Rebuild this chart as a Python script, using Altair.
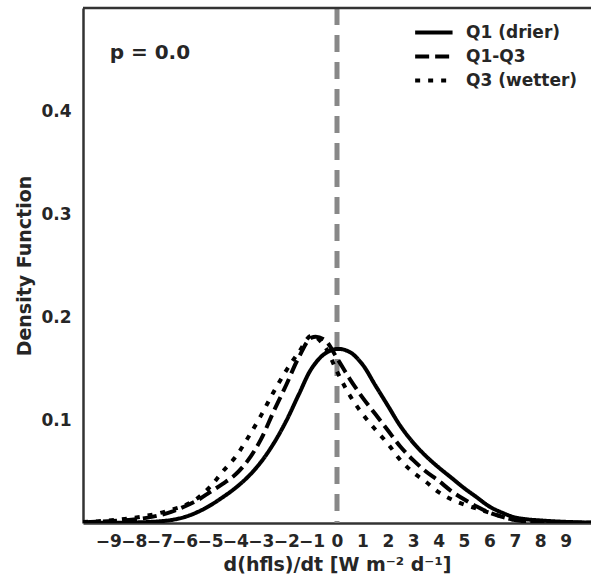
import altair as alt
import pandas as pd

# Kernel density estimates of d(hfls)/dt for three soil-moisture groups
x_grid = [-10.0, -9.5, -9.0, -8.5, -8.0, -7.5, -7.0, -6.5, -6.0, -5.5, -5.0,
          -4.5, -4.0, -3.5, -3.0, -2.5, -2.0, -1.5, -1.0, -0.5, 0.0,
          0.5, 1.0, 1.5, 2.0, 2.5, 3.0, 3.5, 4.0, 4.5, 5.0,
          5.5, 6.0, 6.5, 7.0, 7.5, 8.0, 8.5, 9.0, 9.5, 10.0]

q1_drier = [0.0001, 0.0001, 0.0002, 0.0003, 0.0005, 0.0009, 0.0016, 0.003, 0.0058, 0.0105, 0.017,
            0.025, 0.034, 0.045, 0.059, 0.077, 0.099, 0.125, 0.150, 0.164, 0.169,
            0.166, 0.154, 0.134, 0.114, 0.094, 0.078, 0.065, 0.054, 0.044, 0.034,
            0.025, 0.016, 0.010, 0.0055, 0.0035, 0.0025, 0.0017, 0.0011, 0.0007, 0.0004]

q1_q3 = [0.0008, 0.0012, 0.0018, 0.0025, 0.0035, 0.005, 0.0075, 0.011, 0.016, 0.022, 0.030,
         0.038, 0.047, 0.061, 0.081, 0.108, 0.134, 0.161, 0.180, 0.178, 0.160,
         0.140, 0.122, 0.106, 0.090, 0.074, 0.061, 0.050, 0.041, 0.031, 0.023,
         0.016, 0.010, 0.006, 0.003, 0.0015, 0.0009, 0.0006, 0.0004, 0.0003, 0.0002]

q3_wetter = [0.001, 0.0015, 0.0025, 0.0035, 0.005, 0.007, 0.0095, 0.013, 0.017, 0.024, 0.035,
             0.050, 0.064, 0.083, 0.104, 0.127, 0.148, 0.166, 0.182, 0.172, 0.147,
             0.124, 0.106, 0.091, 0.077, 0.061, 0.049, 0.040, 0.030, 0.023, 0.018,
             0.014, 0.010, 0.006, 0.003, 0.0015, 0.0009, 0.0006, 0.0004, 0.0003, 0.0002]

series_names = ["Q1 (drier)", "Q1-Q3", "Q3 (wetter)"]
series_dash = [[1, 0], [14, 6], [5, 8]]
x_ticks = list(range(-9, 10))
y_ticks = [0.1, 0.2, 0.3, 0.4]
p_label = "p = 0.0"

rows = []
for name, vals in zip(series_names, [q1_drier, q1_q3, q3_wetter]):
    for xv, yv in zip(x_grid, vals):
        rows.append({"x": xv, "density": yv, "series": name})
df = pd.DataFrame(rows)

W, H = 508, 515
FONT = "DejaVu Sans"
INK = "#262626"

x_scale = alt.Scale(domain=[-10, 10], nice=False, zero=False)
y_scale = alt.Scale(domain=[0, 0.5], nice=False)

# one shared axis definition per channel so that layers merge cleanly
x_axis = alt.Axis(values=x_ticks, title="d(hfls)/dt [W m\u207b\u00b2 d\u207b\u00b9]",
                  format="d", labelPadding=10, titlePadding=6,
                  labelOverlap=False, labelFlush=False)
y_axis = alt.Axis(values=y_ticks, title="Density Function", format=".1f",
                  labelPadding=12, titlePadding=6,
                  labelOverlap=False, labelFlush=False)


def xq(field):
    return alt.X(field, type="quantitative", scale=x_scale, axis=x_axis)


def yq(field):
    return alt.Y(field, type="quantitative", scale=y_scale, axis=y_axis)


curves = alt.Chart(df).mark_line(
    color="black", strokeWidth=4, interpolate="catmull-rom", clip=True
).encode(
    x=xq("x"),
    y=yq("density"),
    strokeDash=alt.StrokeDash(
        "series:N",
        scale=alt.Scale(domain=series_names, range=series_dash),
        legend=alt.Legend(title=None, orient="none", legendX=330, legendY=13),
    ),
    detail="series:N",
)

zero_line = alt.Chart(pd.DataFrame({"x": [0]})).mark_rule(
    color="#888888", strokeWidth=5, strokeDash=[17, 10]
).encode(x=xq("x"))

top_spine = alt.Chart(pd.DataFrame({"y": [0.5]})).mark_rule(
    color="#333333", strokeWidth=2.5
).encode(y=yq("y"))

p_text = alt.Chart(pd.DataFrame({"x": [-8.95], "y": [0.456], "t": [p_label]})).mark_text(
    align="left", baseline="middle", font=FONT, fontWeight="bold", fontSize=20, color=INK
).encode(x=xq("x"), y=yq("y"), text="t:N")

chart = alt.layer(zero_line, curves, top_spine, p_text).properties(
    width=W, height=H,
    padding={"left": 83, "top": 8, "right": 0, "bottom": 57},
    autosize=alt.AutoSizeParams(type="none"),
    background="white",
).configure_view(
    stroke=None
).configure_axis(
    grid=False, ticks=False,
    domainColor="#333333", domainWidth=2.5,
    labelFont=FONT, labelFontWeight="bold", labelFontSize=17, labelColor=INK,
    titleFont=FONT, titleFontWeight="bold", titleFontSize=19, titleColor=INK,
).configure_legend(
    labelFont=FONT, labelFontWeight="bold", labelFontSize=17, labelColor=INK,
    symbolType="M-1,0H3", symbolStrokeWidth=4, symbolSize=350,
    symbolStrokeColor="black", symbolFillColor="transparent",
    labelOffset=30, rowPadding=4,
)

chart.save("out.html", embed_options={"renderer": "svg", "actions": False})
